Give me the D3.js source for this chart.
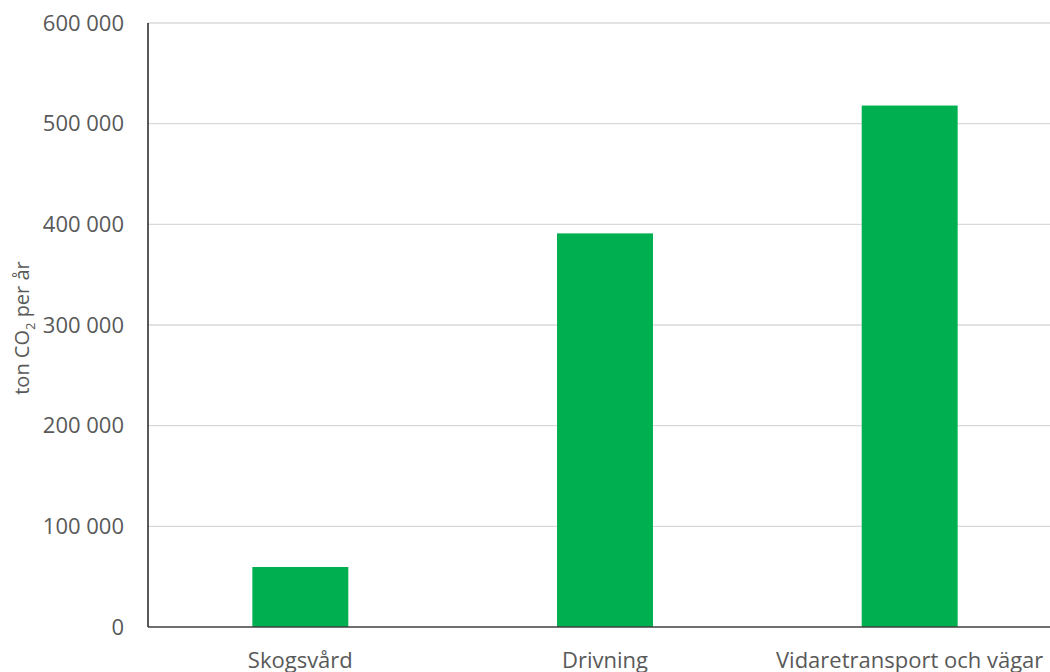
<!DOCTYPE html>
<html>
<head>
<meta charset="utf-8">
<script src="https://cdn.jsdelivr.net/npm/d3@7"></script>
<style>
  body { margin: 0; background: #fff; }
  text { font-family: "Open Sans", sans-serif; fill: #595959; }
</style>
</head>
<body>
<div id="chart"></div>
<script>
// chart data
const categories = ["Skogsvård", "Drivning", "Vidaretransport och vägar"];
const values = [59600, 391000, 518000];
const yTicks = [0, 100000, 200000, 300000, 400000, 500000, 600000];

const width = 1050, height = 672;
const margin = { top: 23, right: -12, bottom: 45, left: 148 };

const svg = d3.select("#chart").append("svg")
    .attr("width", width)
    .attr("height", height);

// scales
const x = d3.scaleBand()
    .domain(categories)
    .range([margin.left, width - margin.right])
    .paddingInner(0.685)
    .paddingOuter(0.3425);

const y = d3.scaleLinear()
    .domain([0, 600000])
    .range([height - margin.bottom, margin.top]);

const fmt = v => d3.format(",")(v).replace(/,/g, " ");

// gridlines
svg.append("g")
    .selectAll("line")
    .data(yTicks.filter(d => d > 0))
    .join("line")
    .attr("x1", margin.left)
    .attr("x2", width)
    .attr("y1", d => y(d))
    .attr("y2", d => y(d))
    .attr("stroke", "#d9d9d9")
    .attr("stroke-width", 1.3);

// y tick labels
svg.append("g")
    .selectAll("text")
    .data(yTicks)
    .join("text")
    .attr("x", 124)
    .attr("y", d => y(d))
    .attr("dy", "0.35em")
    .attr("text-anchor", "end")
    .style("font-size", "22px")
    .text(fmt);

// bars
svg.append("g")
    .selectAll("rect")
    .data(values)
    .join("rect")
    .attr("x", (d, i) => x(categories[i]))
    .attr("width", x.bandwidth())
    .attr("y", d => y(d))
    .attr("height", d => y(0) - y(d))
    .attr("fill", "#00b050");

// axis lines
svg.append("line")
    .attr("x1", margin.left).attr("x2", margin.left)
    .attr("y1", y(600000)).attr("y2", y(0))
    .attr("stroke", "#000").attr("stroke-width", 1.3);

svg.append("line")
    .attr("x1", margin.left).attr("x2", width)
    .attr("y1", y(0)).attr("y2", y(0))
    .attr("stroke", "#404040").attr("stroke-width", 1.5);

// x labels
svg.append("g")
    .selectAll("text")
    .data(categories)
    .join("text")
    .attr("x", d => x(d) + x.bandwidth() / 2)
    .attr("y", 668)
    .attr("text-anchor", "middle")
    .style("font-size", "22px")
    .text(d => d);

// y axis title
const title = svg.append("text")
    .attr("transform", "translate(29,328) rotate(-90)")
    .attr("text-anchor", "middle")
    .style("font-size", "20px");
title.append("tspan").text("ton CO");
title.append("tspan").attr("dy", 6).style("font-size", "13px").text("2");
title.append("tspan").attr("dy", -6).text(" per år");
</script>
</body>
</html>
